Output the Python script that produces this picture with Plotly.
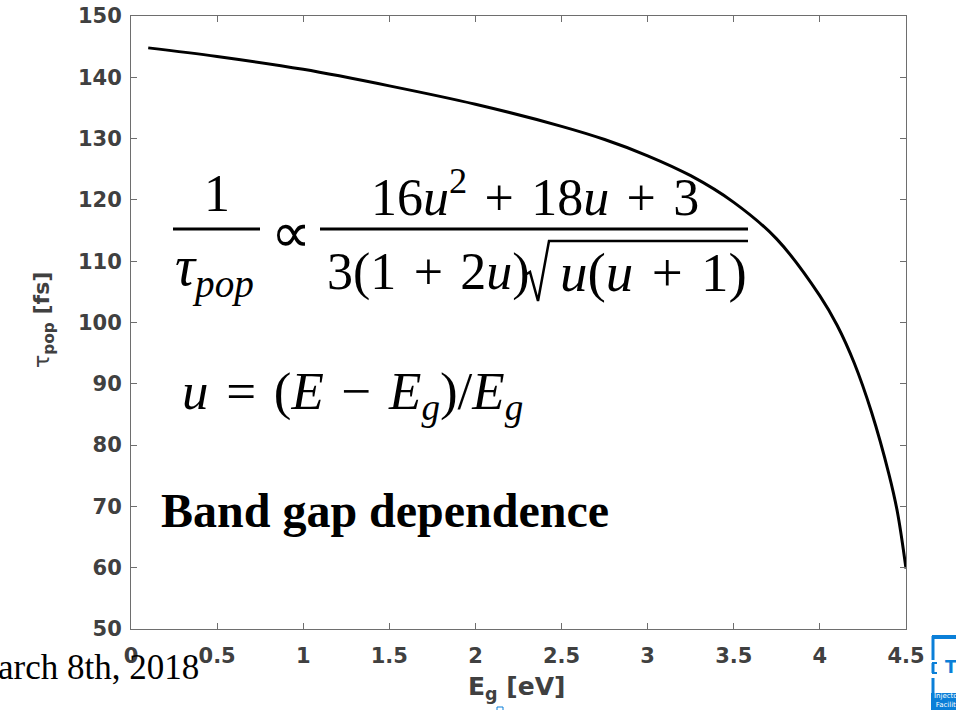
import plotly.graph_objects as go

# Data
eg = [0.1, 0.5, 1.0, 1.5, 2.0, 2.5, 2.75, 3.0, 3.25, 3.5, 3.75, 4.0, 4.1, 4.2, 4.3, 4.4, 4.45, 4.5]
tau = [144.8, 143.4, 141.3, 138.6, 135.6, 132.0, 129.85, 127.2, 123.95, 119.6, 113.6,
       104.35, 99.55, 93.35, 85.35, 75.35, 69.1, 59.85]
x_ticks = [0, 0.5, 1, 1.5, 2, 2.5, 3, 3.5, 4, 4.5]
x_tick_labels = ["0", "0.5", "1", "1.5", "2", "2.5", "3", "3.5", "4", "4.5"]
y_ticks = [50, 60, 70, 80, 90, 100, 110, 120, 130, 140, 150]

W, H = 956, 710
L, R, T, B = 131, 906, 16, 629


def px(x):
    return (x - L) / (R - L)


def py(y):
    return (B - y) / (B - T)


fig = go.Figure()
fig.add_trace(go.Scatter(x=eg, y=tau, mode="lines",
                         line=dict(color="black", width=3, shape="spline", smoothing=1.0),
                         showlegend=False, hoverinfo="skip"))

tickfont = dict(family="DejaVu Sans", size=21, color="#404040", weight="bold")
axis_common = dict(showline=True, linecolor="#6e6e6e", linewidth=1, mirror="ticks",
                   ticks="inside", ticklen=6, tickcolor="#6e6e6e", showgrid=False,
                   zeroline=False, tickfont=tickfont, automargin=False)

fig.update_layout(
    width=W, height=H,
    margin=dict(l=L, r=W - R, t=T, b=H - B, autoexpand=False),
    paper_bgcolor="white", plot_bgcolor="white",
    showlegend=False,
    xaxis=dict(range=[0, 4.5], tickvals=x_ticks, ticktext=x_tick_labels,
               ticklabelstandoff=8, **axis_common),
    yaxis=dict(range=[50, 150], tickvals=y_ticks, ticklabelstandoff=4, **axis_common),
)

serif = "Liberation Serif"
ann = []


def add(text, x, y, size, xanchor="center", yanchor="middle", family=serif, color="black", angle=0):
    ann.append(dict(text=text, x=px(x), y=py(y), xref="paper", yref="paper",
                    xanchor=xanchor, yanchor=yanchor, showarrow=False, textangle=angle,
                    font=dict(family=family, size=size, color=color)))


SP = "\u2004"  # slightly wider math spacing

# axis titles
add("<b>E<sub>g</sub> [eV]</b>", 516, 688, 25, family="DejaVu Sans", color="#404040")
add("<span style='font-weight:normal'>τ</span><b><sub>pop</sub> [fs]</b>", 43, 320, 22,
    family="DejaVu Sans", color="#404040", angle=-90)

# formula
add("1", 217, 193, 52)
add("<i>τ<sub>pop</sub></i>", 173, 270, 56, xanchor="left")
add("∝", 291, 233, 56)
add(f"16<i>u</i><sup>2</sup>{SP}+{SP}18<i>u</i>{SP}+{SP}3", 535, 193, 52)
add(f"3(1{SP}+{SP}2<i>u</i>)", 325, 272, 52, xanchor="left")
add(f"<i>u</i>(<i>u</i>{SP}+{SP}1)", 749, 272, 55, xanchor="right")
add(f"<i>u</i>{SP}={SP}(<i>E</i>{SP}−{SP}<i>E<sub>g</sub></i>)/<i>E<sub>g</sub></i>", 180, 395, 53, xanchor="left")
add("<b>Band gap dependence</b>", 385, 510, 48)
add("arch 8th, 2018", 201, 667, 35, xanchor="right")

# logo fragment text
add("<b>T</b>", 951, 667, 17, family="DejaVu Sans", color="#0a7fd8")
add("Injecto<br>Facilit", 932, 700, 7, xanchor="left", family="DejaVu Sans", color="white")

fig.update_layout(annotations=ann)

shapes = []


def line(x0, y0, x1, y1, w=3, color="black"):
    shapes.append(dict(type="line", xref="paper", yref="paper", x0=px(x0), y0=py(y0),
                       x1=px(x1), y1=py(y1), line=dict(color=color, width=w)))


def path(points, w=3, color="black"):
    d = "M " + " L ".join(f"{px(a):.5f},{py(b):.5f}" for a, b in points)
    shapes.append(dict(type="path", xref="paper", yref="paper", path=d,
                       line=dict(color=color, width=w)))


def rect(x0, y0, x1, y1, fill, lw=0, lc=None):
    shapes.append(dict(type="rect", xref="paper", yref="paper", x0=px(x0), y0=py(y0),
                       x1=px(x1), y1=py(y1), fillcolor=fill,
                       line=dict(width=lw, color=lc or fill)))


line(173, 229, 260, 229)
line(320, 229, 748, 229)
# radical sign with overbar
path([(525, 275), (530, 272), (538, 301), (549, 241), (748, 241)], w=2.5)

blue = "#0a7fd8"
line(932, 637, 958, 637, 4, blue)
line(933, 636, 933, 660, 3, blue)
line(933, 663, 933, 673, 3, blue)
line(932, 663, 937, 663, 2, blue)
line(932, 673, 937, 673, 2, blue)
line(933, 678, 933, 694, 3, blue)
rect(931, 693, 958, 712, blue)
rect(497, 707, 503, 713, "rgba(0,0,0,0)", 1, blue)

fig.update_layout(shapes=shapes)

fig.write_html("out.html", config={"displayModeBar": False},
               post_script="document.body.style.margin='0px';")
